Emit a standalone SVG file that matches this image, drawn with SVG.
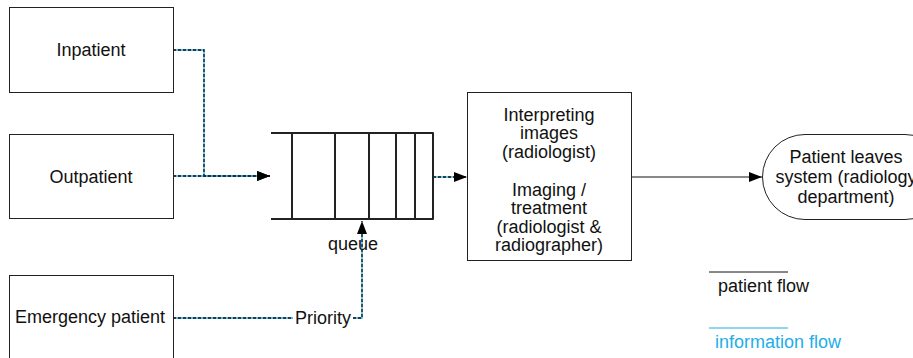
<svg xmlns="http://www.w3.org/2000/svg" width="913" height="358" viewBox="0 0 913 358">
  <style>
    .box { fill: #ffffff; stroke: #222222; stroke-width: 1; }
    .lbl { font-family: "Liberation Sans", Arial, sans-serif; font-size: 18px; fill: #111111; text-anchor: middle; }
    .leg { font-family: "Liberation Sans", Arial, sans-serif; font-size: 18px; }
    .info-base { fill: none; stroke: #22aee6; stroke-width: 1.3; }
    .info-dash { fill: none; stroke: #111111; stroke-width: 1.3; stroke-dasharray: 3 2; }
    .flow { fill: none; stroke: #111111; stroke-width: 1; }
    .queue { fill: none; stroke: #222222; stroke-width: 2; stroke-linejoin: round; }
  </style>
  <defs>
    <marker id="arrow" viewBox="0 0 13 10" refX="13" refY="5" markerWidth="13" markerHeight="10" markerUnits="userSpaceOnUse" orient="auto">
      <path d="M0,0 L13,5 L0,10 Z" fill="#000000"/>
    </marker>
  </defs>

  <rect width="913" height="358" fill="#ffffff"/>

  <!-- connectors -->
  <g id="connectors">
    <!-- information flow: blue base with black dashes -->
    <path class="info-base" d="M173,50 H204 V176 H262"/>
    <path class="info-dash" d="M173,50 H204 V176 H270" marker-end="url(#arrow)"/>
    <path class="info-base" d="M173,176 H262"/>
    <path class="info-dash" d="M173,176 H270" marker-end="url(#arrow)"/>
    <path class="info-base" d="M433,177 H458"/>
    <path class="info-dash" d="M433,177 H467" marker-end="url(#arrow)"/>
    <path class="info-base" d="M173,318 H293"/>
    <path class="info-dash" d="M173,318 H293"/>
    <path class="info-base" d="M353,318 H362 V230"/>
    <path class="info-dash" d="M353,318 H362 V221" marker-end="url(#arrow)"/>
    <!-- patient flow -->
    <path class="flow" d="M467,177 H762" marker-end="url(#arrow)"/>
    <text class="lbl" x="323" y="324">Priority</text>
    <text class="lbl" x="353" y="250">queue</text>
  </g>

  <g id="inpatient">
    <rect class="box" x="9.5" y="7.5" width="164" height="85"/>
    <text class="lbl" x="91" y="56">Inpatient</text>
  </g>

  <g id="outpatient">
    <rect class="box" x="9.5" y="134.5" width="164" height="84"/>
    <text class="lbl" x="91" y="183">Outpatient</text>
  </g>

  <g id="emergency">
    <rect class="box" x="9.5" y="275.5" width="164" height="90"/>
    <text class="lbl" x="90" y="323">Emergency patient</text>
  </g>

  <g id="queue">
    <path class="queue" d="M271,133 H433 V219 H271"/>
    <path class="queue" d="M292,133 V219 M335,133 V219 M369,133 V219 M396,133 V219 M415,133 V219"/>
  </g>

  <g id="imaging">
    <rect class="box" x="467.5" y="92.5" width="164" height="168"/>
    <text class="lbl" x="549" y="121">Interpreting</text>
    <text class="lbl" x="549" y="139">images</text>
    <text class="lbl" x="549" y="158">(radiologist)</text>
    <text class="lbl" x="549" y="196">Imaging /</text>
    <text class="lbl" x="549" y="214">treatment</text>
    <text class="lbl" x="549" y="233">(radiologist &amp;</text>
    <text class="lbl" x="549" y="251">radiographer)</text>
  </g>

  <g id="exit">
    <rect class="box" x="762.5" y="134.5" width="185" height="85" rx="42.5" ry="42.5"/>
    <text class="lbl" x="846" y="163">Patient leaves</text>
    <text class="lbl" x="846" y="183">system (radiology</text>
    <text class="lbl" x="846" y="203">department)</text>
  </g>

  <g id="legend">
    <line x1="709" y1="272" x2="788" y2="272" stroke="#111111" stroke-width="1"/>
    <text class="leg" x="718" y="292" fill="#111111">patient flow</text>
    <line x1="709" y1="328" x2="788" y2="328" stroke="#22aee6" stroke-width="1"/>
    <text class="leg" x="715" y="348" fill="#22aee6">information flow</text>
  </g>
</svg>
